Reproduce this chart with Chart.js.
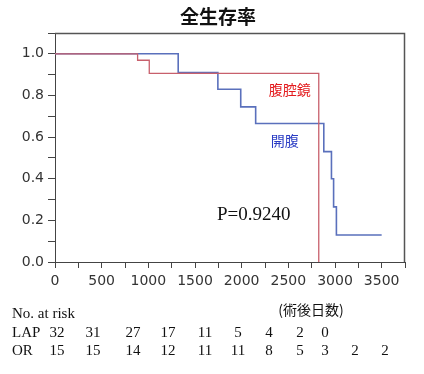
<!DOCTYPE html>
<html>
<head>
<meta charset="utf-8">
<script src="https://cdn.jsdelivr.net/npm/chart.js@4"></script>
<style>
  html, body { margin: 0; padding: 0; background: #fff; }
  canvas { display: block; }
</style>
</head>
<body>
<canvas id="grafico-km" width="424" height="374"></canvas>
<script>
// Kaplan-Meier estimates
var lapDias = [0, 885, 1010, 2826];
var lapSuperv = [1.0, 0.969, 0.906, 0.0];
var orDias = [0, 1320, 1745, 1990, 2150, 2880, 2962, 2985, 3015, 3500];
var orSuperv = [1.0, 0.91, 0.83, 0.745, 0.665, 0.53, 0.40, 0.265, 0.13, 0.13];

// numbers at risk table
var riesgoGrupos = ['LAP', 'OR'];
var riesgoLap = ['32', '31', '27', '17', '11', '5', '4', '2', '0'];
var riesgoOr = ['15', '15', '14', '12', '11', '11', '8', '5', '3', '2', '2'];

var titulo = '全生存率';
var etiquetaLap = '腹腔鏡';
var etiquetaOr = '開腹';
var textoP = 'P=0.9240';
var textoEjeX = '(術後日数)';

function puntos(xs, ys) {
  var res = [];
  for (var i = 0; i < xs.length; i++) res.push({ x: xs[i], y: ys[i] });
  return res;
}

var ejeColor = '#444';
var columnasRiesgo = [57, 93, 133, 168, 205, 238, 269, 300, 325, 355, 385];

var textos = {
  id: 'textos',
  afterDraw: function(chart) {
    var ctx = chart.ctx, a = chart.chartArea;
    var sx = chart.scales.x, sy = chart.scales.y;
    ctx.save();
    // caja del grafico (top y right)
    ctx.strokeStyle = '#555';
    ctx.lineWidth = 1.5;
    ctx.beginPath();
    ctx.moveTo(a.left, a.top + 0.5);
    ctx.lineTo(a.right - 0.5, a.top + 0.5);
    ctx.lineTo(a.right - 0.5, a.bottom);
    ctx.stroke();

    ctx.textBaseline = 'middle';
    ctx.fillStyle = '#111';
    ctx.textAlign = 'center';
    ctx.font = 'bold 19px "Noto Sans CJK JP"';
    ctx.fillText(titulo, 218, 17);

    ctx.font = '14px "Noto Sans CJK JP"';
    ctx.fillStyle = '#e3191c';
    ctx.fillText(etiquetaLap, sx.getPixelForValue(2516), sy.getPixelForValue(0.827));
    ctx.fillStyle = '#2a3cc4';
    ctx.fillText(etiquetaOr, sx.getPixelForValue(2462), sy.getPixelForValue(0.582));

    ctx.fillStyle = '#111';
    ctx.textAlign = 'left';
    ctx.font = '19px "Liberation Serif"';
    ctx.fillText(textoP, sx.getPixelForValue(1735), sy.getPixelForValue(0.226));

    ctx.textAlign = 'center';
    ctx.font = '14px "Noto Sans CJK JP"';
    ctx.fillText(textoEjeX, 311, 310);

    ctx.textAlign = 'left';
    ctx.font = '15px "Liberation Serif"';
    ctx.fillText('No. at risk', 12, 314);
    ctx.fillText(riesgoGrupos[0], 12, 333);
    ctx.fillText(riesgoGrupos[1], 12, 351);
    ctx.textAlign = 'center';
    for (var i = 0; i < riesgoLap.length; i++) ctx.fillText(riesgoLap[i], columnasRiesgo[i], 333);
    for (var j = 0; j < riesgoOr.length; j++) ctx.fillText(riesgoOr[j], columnasRiesgo[j], 351);
    ctx.restore();
  }
};

new Chart(document.getElementById('grafico-km').getContext('2d'), {
  type: 'line',
  data: {
    datasets: [
      {
        label: 'LAP',
        data: puntos(lapDias, lapSuperv),
        stepped: 'before',
        borderColor: '#c8606c',
        borderWidth: 1.3,
        pointRadius: 0,
        fill: false
      },
      {
        label: 'OR',
        data: puntos(orDias, orSuperv),
        stepped: 'before',
        borderColor: '#5a70bc',
        borderWidth: 1.6,
        pointRadius: 0,
        fill: false
      }
    ]
  },
  options: {
    responsive: false,
    devicePixelRatio: 1,
    animation: false,
    clip: false,
    layout: { padding: { left: 0, top: 33, right: 19, bottom: 82 } },
    plugins: { legend: { display: false }, title: { display: false }, tooltip: { enabled: false } },
    scales: {
      x: {
        type: 'linear',
        min: 0,
        max: 3750,
        afterFit: function(scale) { scale.height = 30; },
        border: { color: ejeColor, width: 1 },
        grid: { drawOnChartArea: false, drawTicks: true, tickLength: 6, color: ejeColor },
        ticks: {
          stepSize: 250,
          autoSkip: false,
          maxRotation: 0,
          padding: 5,
          color: '#333',
          font: { family: 'DejaVu Sans', size: 14 },
          callback: function(v) { return v % 500 === 0 && v <= 3500 ? String(v) : ''; }
        }
      },
      y: {
        min: 0,
        max: 1.1,
        afterFit: function(scale) { scale.width = 55; },
        border: { color: ejeColor, width: 1 },
        grid: { drawOnChartArea: false, drawTicks: true, tickLength: 7, color: ejeColor },
        ticks: {
          stepSize: 0.1,
          autoSkip: false,
          padding: 4,
          color: '#333',
          font: { family: 'DejaVu Sans', size: 14 },
          callback: function(v) { return Math.round(v * 10) % 2 === 0 ? v.toFixed(1) : ''; }
        }
      }
    }
  },
  plugins: [textos]
});
</script>
</body>
</html>
